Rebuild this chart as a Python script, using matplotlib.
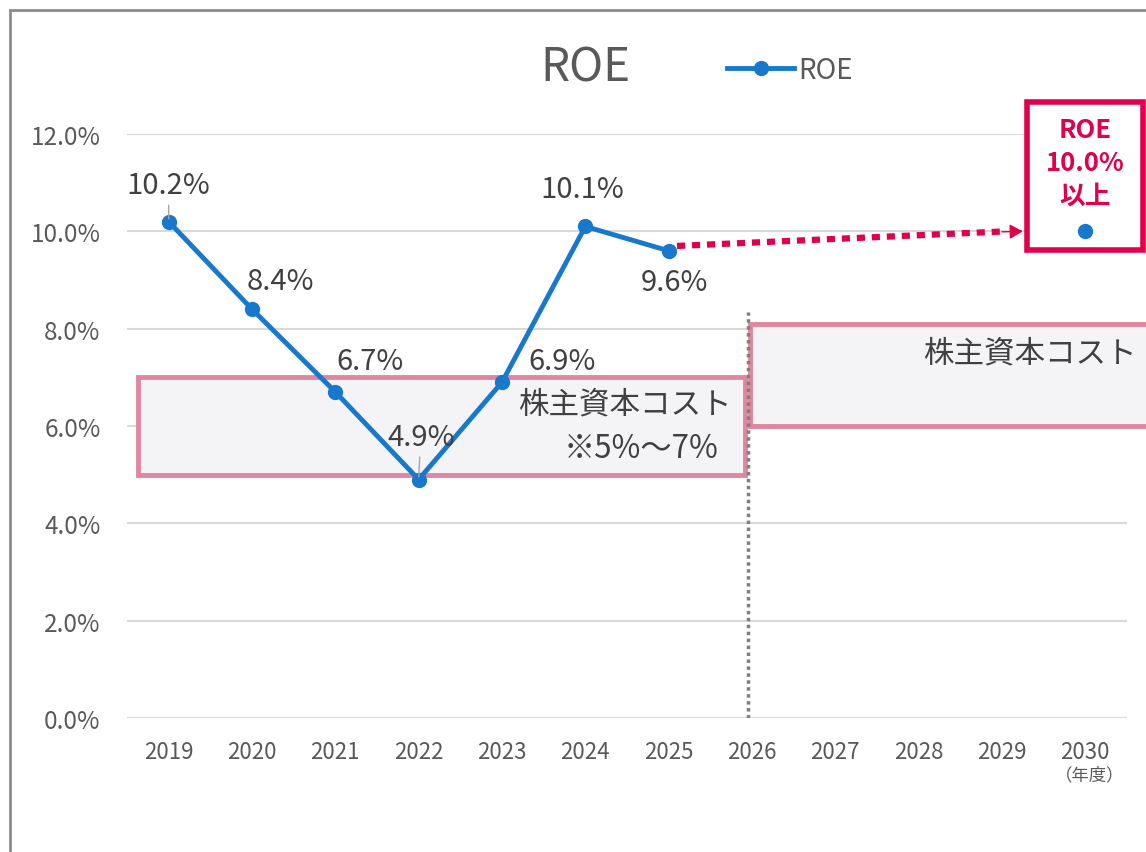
import matplotlib.pyplot as plt
from matplotlib.patches import Rectangle

plt.rcParams['font.family'] = ['Noto Sans CJK JP', 'DejaVu Sans']

# data
years = ['2019', '2020', '2021', '2022', '2023', '2024', '2025', '2026',
         '2027', '2028', '2029', '2030']
roe = [10.2, 8.4, 6.7, 4.9, 6.9, 10.1, 9.6]
roe_labels = ['10.2%', '8.4%', '6.7%', '4.9%', '6.9%', '10.1%', '9.6%']
target_roe = 10.0
yticks = [0, 2, 4, 6, 8, 10, 12]
cost_now = (5.0, 7.0)
cost_future = (6.0, 8.0)

BLUE = '#1878CC'
RED = '#E0004D'
PINK = '#E0869E'
GRAY = '#595959'
DARK = '#404040'

fig = plt.figure(figsize=(11.46, 8.53), dpi=100)
ax = fig.add_axes([127 / 1146, 134 / 853, 1000 / 1146, 584 / 853])

x = list(range(len(years)))
ax.set_xlim(-0.5, len(years) - 0.5)
ax.set_ylim(0, 12)

# outer frame (cut off on right and bottom)
fig.add_artist(Rectangle((10 / 1146, -0.1), 1.2, 1 - 11 / 853 + 0.1,
                         transform=fig.transFigure, fill=False,
                         edgecolor='#8c8c8c', linewidth=2))

for t in yticks:
    ax.axhline(t, color='#d9d9d9', linewidth=1.5, zorder=0)

# cost of equity boxes
ax.add_patch(Rectangle((-0.37, cost_now[0]), 7.29, cost_now[1] - cost_now[0],
                       facecolor='#F4F4F7', edgecolor=PINK, linewidth=3.5,
                       zorder=1, clip_on=False))
ax.add_patch(Rectangle((6.98, cost_future[0]), 5.2, cost_future[1] - cost_future[0] + 0.1,
                       facecolor='#F4F4F7', edgecolor=PINK, linewidth=3.5,
                       zorder=1, clip_on=False))
ax.text(6.75, 6.45, '株主資本コスト', ha='right', va='center', fontsize=22, color=DARK, zorder=5)
ax.text(6.6, 5.55, '※5%～7%', ha='right', va='center', fontsize=22.5, color=DARK, zorder=5)
ax.text(11.62, 7.5, '株主資本コスト', ha='right', va='center', fontsize=22, color=DARK,
        zorder=5, clip_on=False)

# dotted divider
ax.plot([6.95, 6.95], [0, 8.35], color='#7f7f7f', linestyle=(0, (1, 1)), linewidth=2.5, zorder=2)

# target box
ax.add_patch(Rectangle((10.3, 9.62), 1.39, 3.04, facecolor='white', edgecolor=RED,
                       linewidth=4, zorder=3, clip_on=False))
ax.text(x[-1], 11.42, 'ROE\n10.0%\n以上', ha='center', va='center', fontsize=18.5,
        fontweight='bold', color=RED, linespacing=1.28, zorder=6)

# ROE line
ax.plot(x[:len(roe)], roe, color=BLUE, linewidth=3.5, marker='o', markersize=10,
        zorder=4, label='ROE')
ax.plot([x[-1]], [target_roe], color=BLUE, marker='o', markersize=10, linestyle='none', zorder=6)

# dotted arrow to target
ax.plot([6.1, 10.05], [roe[-1] + 0.1, target_roe], color=RED, linewidth=4.5,
        linestyle=(0, (1.3, 1.1)), zorder=5)
ax.annotate('', xy=(10.25, target_roe), xytext=(10.0, target_roe - 0.01),
            arrowprops=dict(arrowstyle='-|>,head_length=0.8,head_width=0.45', color=RED,
                            linewidth=1, shrinkA=0, shrinkB=0), zorder=5)

# data labels
offsets = [(0, 37), (28, 28), (35, 31), (2, 43), (60, 21), (-3, 37), (6, -31)]
leaders = [True, False, False, True, False, False, False]
for xi, v, lab, off, lead in zip(x, roe, roe_labels, offsets, leaders):
    props = dict(arrowstyle='-', color='#a6a6a6', linewidth=1, shrinkA=2, shrinkB=2) if lead else None
    ax.annotate(lab, (xi, v), xytext=off, textcoords='offset pixels',
                ha='center', va='center', fontsize=21, color=DARK, zorder=6,
                arrowprops=props)

# axes styling
ax.set_xticks(x)
ax.set_xticklabels(years, fontsize=16, color=GRAY)
ax.set_yticks(yticks)
ax.set_yticklabels([f'{t:.1f}%' for t in yticks], fontsize=17.5, color=GRAY)
ax.tick_params(axis='x', length=0, pad=16)
ax.tick_params(axis='y', length=0, pad=19)
for s in ax.spines.values():
    s.set_visible(False)
ax.text(x[-1] + 0.05, -1.15, '（年度）', ha='center', va='center', fontsize=12.5, color=GRAY)

fig.text(585 / 1146, 1 - 68 / 853, 'ROE', ha='center', va='center', fontsize=33, color=GRAY)
ax.legend(loc='center', bbox_to_anchor=(790 / 1146, 1 - 71 / 853),
          bbox_transform=fig.transFigure, frameon=False, fontsize=20,
          labelcolor=GRAY, handlelength=2.4, handletextpad=0.15)

fig.savefig('out.png', dpi=100)
